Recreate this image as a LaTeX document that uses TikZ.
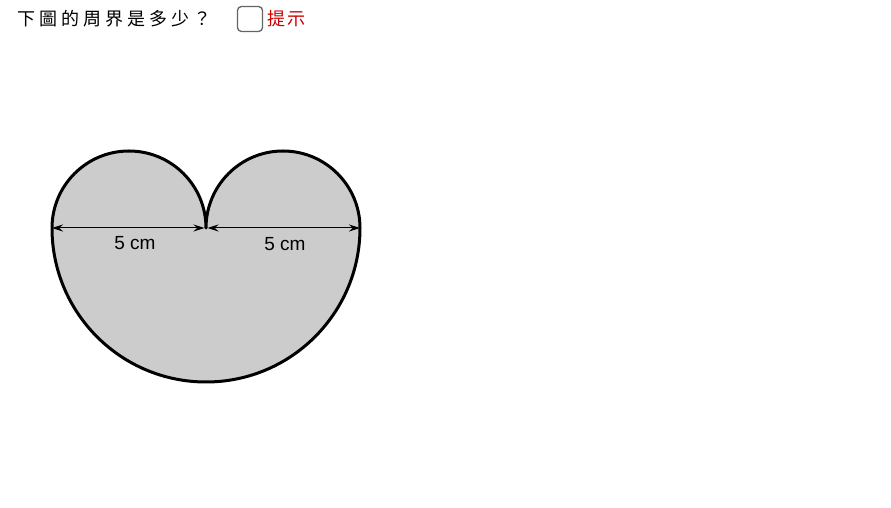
\documentclass[tikz,border=0pt]{standalone}
\usepackage{fontspec}
\setmainfont{Liberation Sans}
\newfontfamily\cjk{Noto Sans CJK TC}
\usetikzlibrary{arrows.meta}
\definecolor{shapegray}{RGB}{204,204,204}
\definecolor{hintred}{RGB}{204,0,0}
\definecolor{boxgray}{RGB}{100,100,100}
\tikzset{
  outline/.style={draw=black, line width=3pt, fill=shapegray, line join=round},
  dimline/.style={draw=black, line width=1pt, {Stealth[length=11pt,width=7pt]}-{Stealth[length=11pt,width=7pt]}},
  dimlabel/.style={font=\fontsize{19}{19}\selectfont, inner sep=0pt},
  title/.style={font=\cjk\fontsize{18}{18}\selectfont, anchor=west, inner sep=0pt},
  hint/.style={font=\cjk\fontsize{18}{18}\selectfont, anchor=west, inner sep=0pt, text=hintred},
  checkbox/.style={draw=boxgray, line width=1.3pt, rounded corners=4pt, fill=white, minimum width=25pt, minimum height=25pt, inner sep=0pt}
}
\begin{document}
\begin{tikzpicture}[x=1pt,y=1pt]
\useasboundingbox (0,0) rectangle (891,508);
% shape
\draw[outline] (52,280) arc[start angle=180,end angle=0,radius=77]
  arc[start angle=180,end angle=0,radius=77]
  arc[start angle=0,end angle=-180,radius=154] -- cycle;
% dimension coordinates
\coordinate (L) at (52,280);
\coordinate (ML) at (204.5,280);
\coordinate (MR) at (207.5,280);
\coordinate (R) at (360,280);
\draw[dimline] (L) -- (ML);
\draw[dimline] (MR) -- (R);
\node[dimlabel] (lab1) at (135,265) {5 cm};
\node[dimlabel] (lab2) at (285,264) {5 cm};
% title
\node[title] (q) at (17,489) {下\hspace{4pt}圖\hspace{4pt}的\hspace{4pt}周\hspace{4pt}界\hspace{4pt}是\hspace{4pt}多\hspace{4pt}少\hspace{4pt}？};
\node[checkbox] (cb) at (250,489) {};
\node[hint] (h) at (267,489) {提\hspace{2pt}示};
\end{tikzpicture}
\end{document}
